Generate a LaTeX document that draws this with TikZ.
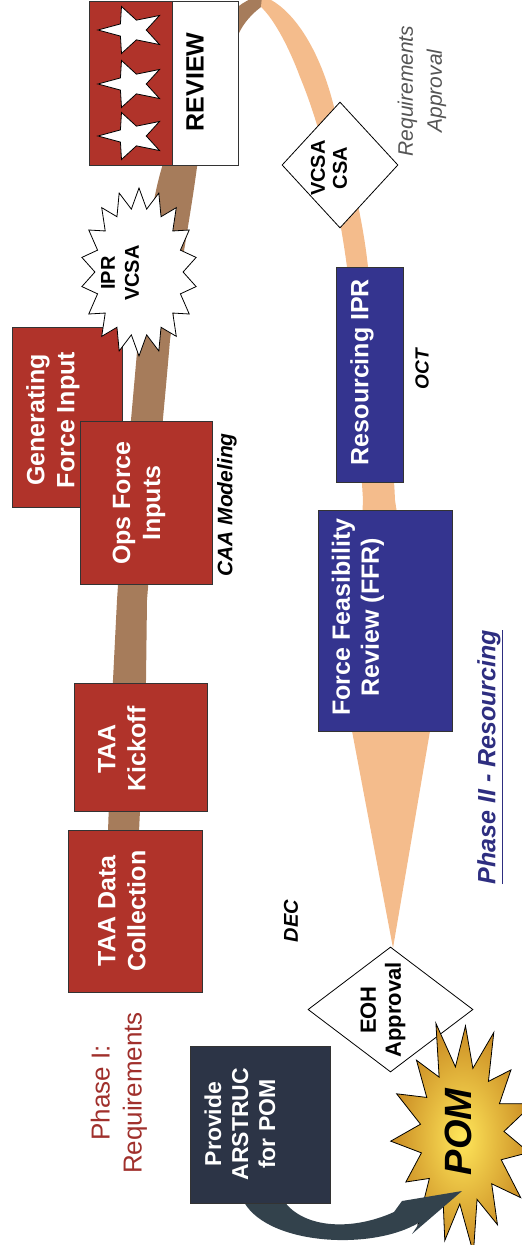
\documentclass[tikz,border=0pt]{standalone}
\usepackage{fontspec}
\setmainfont{Liberation Sans}
\usetikzlibrary{shapes.geometric}
\definecolor{boxred}{HTML}{B0332A}
\definecolor{boxnavy}{HTML}{34348F}
\definecolor{slate}{HTML}{2C3446}
\definecolor{bandbrown}{HTML}{A67C5B}
\definecolor{bandorange}{HTML}{F4BC8C}
\definecolor{phaseonered}{HTML}{A0302C}
\definecolor{phasetwoblue}{HTML}{2E2E80}
\definecolor{notegray}{HTML}{555555}
\definecolor{pomgold}{HTML}{C98A22}
\definecolor{pomyellow}{HTML}{FFE65A}
\definecolor{arrowslate}{HTML}{33424C}
\begin{document}
\begin{tikzpicture}[x=1pt,y=-1pt,
  boxshape/.style={draw=black!80, line width=0.8pt, inner sep=0pt},
  redbox/.style={boxshape, fill=boxred},
  navybox/.style={boxshape, fill=boxnavy},
  slatebox/.style={boxshape, fill=slate},
  whitebox/.style={boxshape, fill=white},
  decision/.style={diamond, draw=black, line width=0.8pt, fill=white, inner sep=0pt},
  boxtext/.style={text=white, font=\bfseries\fontsize{25}{30}\selectfont, align=center, rotate=90, inner sep=0pt},
  darktext/.style={text=black, font=\bfseries\fontsize{20}{24}\selectfont, align=center, rotate=90, inner sep=0pt},
  notetext/.style={text=black, font=\bfseries\itshape\fontsize{20}{24}\selectfont, rotate=90, inner sep=0pt},
  starstyle/.style={draw=black, line width=0.8pt, fill=white},
  burststyle/.style={draw=black, line width=0.8pt, fill=white},
]
\useasboundingbox (0,0) rectangle (522,1245);
\clip (0,0) rectangle (522,1245);

% ---- the ribbon: brown rising leg, orange falling leg ----
\fill[bandbrown] (108,832) -- (113,680) -- (117,600)
  .. controls (125,480) and (133,400) .. (138,340)
  .. controls (145,250) and (152,200) .. (162,167)
  .. controls (180,100) and (215,-2) .. (264,-4)
  -- (261,7)
  .. controls (252,14) and (244,22) .. (238,35)
  .. controls (220,80) and (205,120) .. (197,167)
  .. controls (190,220) and (175,300) .. (170,340)
  .. controls (165,400) and (155,500) .. (147,600)
  -- (146,680) -- (139,832) -- cycle;
\fill[bandorange] (262,-4)
  .. controls (290,5) and (318,45) .. (333,103)
  .. controls (345,150) and (362,210) .. (368,267)
  .. controls (380,350) and (392,430) .. (395,500)
  -- (430,731) -- (393,948) -- (352,731) -- (363,500)
  .. controls (358,420) and (352,330) .. (347,267)
  .. controls (338,200) and (322,130) .. (300,77)
  .. controls (290,50) and (275,20) .. (261,7) -- cycle;

% ---- Phase I boxes ----
\node[redbox, minimum width=134pt, minimum height=162pt] (datacoll) at (135,911) {};
\node[redbox, minimum width=133pt, minimum height=128pt] (kickoff) at (140.5,747) {};
\node[redbox, minimum width=110pt, minimum height=180pt] (genforce) at (67,417) {};
\node[redbox, minimum width=132pt, minimum height=163pt] (opsforce) at (146,502.5) {};

% review block with stars
\node[redbox, minimum width=83pt, minimum height=164pt] (reviewflag) at (130.5,83) {};
\node[whitebox, minimum width=66pt, minimum height=164pt] (reviewbox) at (205,83) {};
\foreach \cy [count=\n] in {30,84,136} {
  \coordinate (star\n) at (132,\cy);
  \draw[starstyle] ({132-34},{\cy})
    \foreach \k in {1,...,9} {
      -- ({132+(mod(\k,2)==1 ? 0.42 : 1)*34*cos(180+36*\k)},
          {\cy+(mod(\k,2)==1 ? 0.42 : 1)*24.7*sin(180+36*\k)})
    } -- cycle;
}

% IPR / VCSA burst
\coordinate (iprburst) at (139,272);
\draw[burststyle] ({139+58*cos(90)},{272+84*sin(90)})
  \foreach \i in {1,...,18} {
    -- ({139+0.76*58*cos(90+(\i-0.5)*20)},{272+0.76*84*sin(90+(\i-0.5)*20)})
    -- ({139+58*cos(90+\i*20)},{272+84*sin(90+\i*20)})
  } -- cycle;

% ---- Phase II boxes ----
\node[navybox, minimum width=67pt, minimum height=215pt] (resipr) at (369.5,374.5) {};
\node[navybox, minimum width=134pt, minimum height=221pt] (ffr) at (385,620.5) {};

% decisions
\node[decision, minimum width=116pt, minimum height=126pt] (vcsacsa) at (340,165) {};
\node[decision, minimum width=165pt, minimum height=125pt] (eoh) at (390.5,1009.5) {};

% POM burst
\coordinate (pomburst) at (462,1135);
\shadedraw[inner color=pomyellow, outer color=pomgold, draw=black, line width=0.8pt]
  ({462+70*cos(201)},{1135+115*sin(201)})
  \foreach \m [count=\i] in {0.92,1.04,0.95,1.0,0.9,1.05,0.97,1.0,0.93,1.04,0.95,1.0,0.9,1.02,1.0} {
    -- ({462+0.6*70*cos(201+(\i-0.5)*24)},{1135+0.6*115*sin(201+(\i-0.5)*24)})
    -- ({462+\m*70*cos(201+\i*24)},{1135+\m*115*sin(201+\i*24)})
  } -- cycle;

% curved arrow from the ARSTRUC box into POM
\fill[arrowslate] (242,1198) .. controls (262,1245) and (372,1252) .. (420,1222)
  -- (412,1234) -- (462,1191) -- (402,1201) -- (394,1212)
  .. controls (350,1232) and (300,1228) .. (282,1198) -- cycle;
\node[slatebox, minimum width=140pt, minimum height=157pt] (provide) at (260,1124.5) {};

% ---- texts ----
\node[text=black, font=\bfseries\fontsize{25}{30}\selectfont, rotate=90, inner sep=0pt] (reviewlbl) at (195,82) {REVIEW};
\node[darktext] (iprlbl) at (120,273) {IPR\\VCSA};
\node[boxtext] (genlbl) at (53,420) {Generating\\Force Input};
\node[boxtext] (opslbl) at (139,503) {Ops Force\\Inputs};
\node[notetext, font=\bfseries\itshape\fontsize{21}{24}\selectfont] (caalbl) at (227,505) {CAA Modeling};
\node[boxtext] (kicklbl) at (122,749) {TAA\\Kickoff};
\node[boxtext] (datalbl) at (122,911) {TAA Data\\Collection};
\node[text=phaseonered, font=\fontsize{26}{32}\selectfont, align=center, rotate=90, inner sep=0pt] (phaseone) at (119,1093) {Phase I:\\Requirements};
\node[boxtext, font=\bfseries\fontsize{23}{27}\selectfont] (providelbl) at (240,1124) {Provide\\ARSTRUC\\for POM};
\node[darktext, font=\bfseries\fontsize{20}{22}\selectfont] (vcsalbl) at (329,168) {VCSA\\CSA};
\node[text=notegray, font=\itshape\fontsize{21}{29}\selectfont, align=center, rotate=90, inner sep=0pt] (reqappr) at (422,91) {Requirements\\Approval};
\node[boxtext] (reslbl) at (362,372) {Resourcing IPR};
\node[notetext, font=\bfseries\itshape\fontsize{19}{24}\selectfont] (octlbl) at (422,369) {OCT};
\node[boxtext, font=\bfseries\fontsize{25}{29}\selectfont] (ffrlbl) at (358,617) {Force Feasibility\\Review (FFR)};
\node[text=phasetwoblue, font=\bfseries\itshape\fontsize{25}{30}\selectfont, rotate=90, inner sep=0pt] (phasetwo) at (490,757) {\underline{Phase II - Resourcing}};
\node[notetext] (declbl) at (291,921) {DEC};
\node[darktext, font=\bfseries\fontsize{22}{25}\selectfont] (eohlbl) at (383,1010) {EOH\\Approval};
\node[text=black, font=\bfseries\itshape\fontsize{38}{40}\selectfont, rotate=90, inner sep=0pt] (pomlbl) at (458,1132) {POM};
\end{tikzpicture}
\end{document}
